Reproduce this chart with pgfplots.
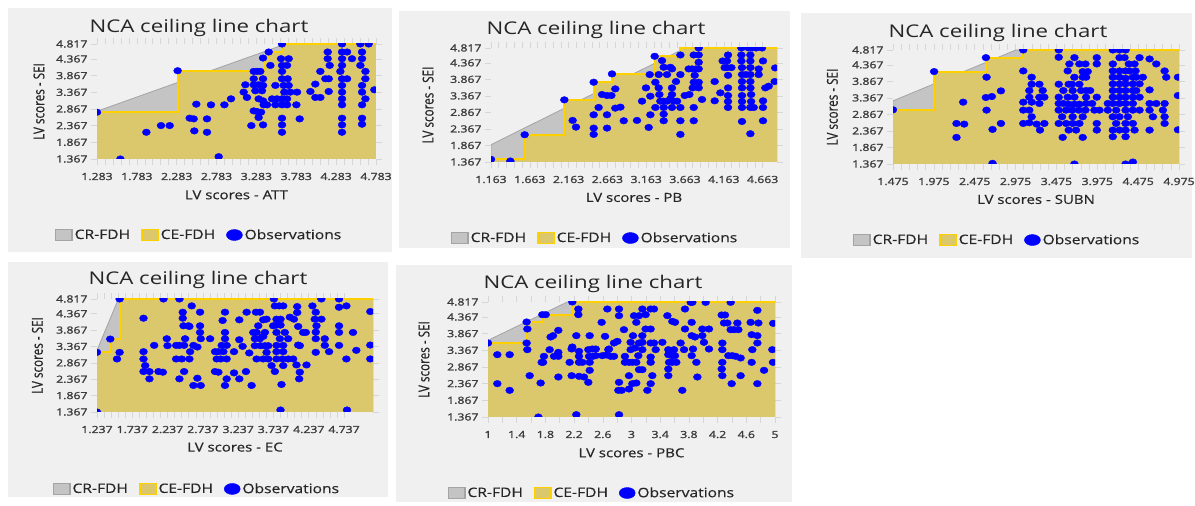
\documentclass[border=0pt]{standalone}
\usepackage{fontspec}
\setmainfont{Open Sans}[FakeStretch=1.2, FakeBold=0.4]
\newfontfamily\titlefont{Open Sans}[FakeStretch=1.27]
\newfontfamily\tickfont{Open Sans}[FakeStretch=1.25, FakeBold=1.6]
\newfontfamily\ylabfont{Open Sans}[FakeStretch=0.78, FakeBold=0.5]
\usepackage{pgfplots}
\pgfplotsset{compat=1.18}
\definecolor{panelbg}{HTML}{F0F0F0}
\definecolor{khaki}{HTML}{DCC86C}
\definecolor{yel}{HTML}{FFD000}
\definecolor{crgray}{HTML}{C4C4C4}
\definecolor{credge}{HTML}{A4A4A4}
\definecolor{obsblue}{HTML}{0000FF}
\definecolor{txt}{HTML}{262626}
\definecolor{tickc}{HTML}{D6D6D6}
\pgfplotsset{nca/.style={
  scale only axis, clip marker paths=true,
  ymin=1.367, ymax=4.817,
  ytick={1.367,1.867,2.367,2.867,3.367,3.867,4.367,4.817},
  yticklabels={1.367,1.867,2.367,2.867,3.367,3.867,4.367,4.817},
  minor y tick num=5, minor x tick num=4,
  tick align=outside,
  major tick length=6pt, minor tick length=6pt,
  tick style={draw=tickc, line width=0.6pt},
  axis line style={draw=none},
  axis background/.style={fill=panelbg},
  tick label style={font=\tickfont\fontsize{9.8}{11}\selectfont, text=txt!90},
  xticklabel style={anchor=base, yshift=-15pt},
  yticklabel style={xshift=0pt},
  ylabel style={font=\ylabfont\fontsize{15}{17}\selectfont, text=txt, anchor=center},
  xlabel style={font=\fontsize{12.5}{14}\selectfont, text=txt, anchor=base, at={(axis description cs:0.5,-0.35)}},
  ylabel={LV scores - SEI},
  legend columns=3,
  legend style={draw=none, fill=none, anchor=center, font=\fontsize{13}{15}\selectfont, text=txt,
    /tikz/every even column/.append style={column sep=9pt}},
},
obs/.style={only marks, mark=*, mark size=3.3pt, color=obsblue, mark options={fill=obsblue, draw=none, xscale=1.2}},
celine/.style={draw=yel, line width=2pt, forget plot},
cefill/.style={fill=khaki, draw=none, forget plot},
crfill/.style={fill=crgray, draw=credge, line width=0.8pt, forget plot},
}
\newcommand{\ncalegend}{%
  \addlegendimage{legend image code/.code={\draw[fill=crgray,draw=credge,line width=1.3pt](0pt,-5.6pt) rectangle (16.5pt,5.6pt);}}
  \addlegendentry{CR-FDH}
  \addlegendimage{legend image code/.code={\draw[fill=khaki,draw=yel,line width=1.6pt](0pt,-5.6pt) rectangle (16pt,5.6pt);}}
  \addlegendentry{CE-FDH}
  \addlegendimage{legend image code/.code={\fill[obsblue](8pt,0pt) ellipse (8pt and 5.5pt);}}
  \addlegendentry{Observations}
}
\begin{document}
\begin{tikzpicture}
\path[use as bounding box, fill=white] (0pt,0pt) rectangle (1195pt,506pt);
\fill[panelbg] (8pt,254pt) rectangle (392pt,498pt);
\fill[panelbg] (399pt,258pt) rectangle (790pt,495pt);
\fill[panelbg] (801pt,248pt) rectangle (1192pt,493pt);
\fill[panelbg] (8pt,9pt) rectangle (388pt,244pt);
\fill[panelbg] (396pt,4pt) rectangle (792pt,241pt);

% ---------------- Panel 1: ATT
\begin{axis}[nca, at={(97pt,347pt)}, anchor=south west, width=279pt, height=115pt,
  xmin=1.283, xmax=4.783,
  xtick={1.283,1.783,2.283,2.783,3.283,3.783,4.283,4.783},
  xticklabels={1.283,1.783,2.283,2.783,3.283,3.783,4.283,4.783},
  xlabel={LV scores - ATT},
  ylabel style={at={(axis description cs:-0.208,0.5)}},
  legend style={at={(axis description cs:0.366,-0.661)}}]
\ncalegend
\addplot[crfill] coordinates {(1.283,1.367) (1.283,2.80) (3.65,4.817) (4.783,4.817) (4.783,1.367)};
\addplot[cefill] coordinates {(1.283,1.367) (1.283,2.771) (2.295,2.771) (2.295,4.015) (3.374,4.015) (3.374,4.396) (3.445,4.396) (3.445,4.577) (3.604,4.577) (3.604,4.817) (4.783,4.817) (4.783,1.367)};
\addplot[celine] coordinates {(1.283,2.771) (2.295,2.771) (2.295,4.015) (3.374,4.015) (3.374,4.396) (3.445,4.396) (3.445,4.577) (3.604,4.577) (3.604,4.817) (4.783,4.817)};
\addplot[obs, forget plot] table {
x y
1.283 2.771
1.576 1.367
1.902 2.169
2.086 2.370
2.195 2.370
2.295 4.015
2.446 2.591
2.496 2.571
2.529 3.012
2.504 2.210
2.663 2.571
2.663 2.169
2.713 2.992
2.810 1.437
2.881 2.992
2.964 3.172
3.144 3.594
3.123 3.373
3.165 3.213
3.219 2.370
3.249 3.995
3.291 3.995
3.332 3.995
3.249 3.774
3.366 3.774
3.249 3.594
3.311 3.594
3.366 3.574
3.270 3.413
3.353 3.413
3.311 3.172
3.366 3.112
3.374 2.992
3.416 2.992
3.249 2.811
3.291 2.791
3.341 2.771
3.311 2.611
3.366 2.390
3.366 4.396
3.437 4.577
3.458 4.175
3.521 3.574
3.479 3.172
3.541 3.172
3.604 3.172
3.667 3.172
3.521 2.992
3.604 2.992
3.667 2.992
3.784 2.992
3.604 4.817
3.592 4.376
3.688 4.376
3.604 4.175
3.667 4.175
3.604 3.995
3.604 3.774
3.675 3.774
3.625 3.574
3.688 3.574
3.633 3.373
3.709 3.373
3.792 3.373
3.604 2.591
3.604 2.390
3.604 2.169
3.826 2.571
3.960 3.393
4.022 3.614
4.022 3.213
4.085 3.213
4.085 3.995
4.148 3.774
4.190 3.774
4.190 3.393
4.177 4.577
4.177 4.376
4.202 4.175
4.357 4.817
4.357 4.577
4.420 4.577
4.482 4.376
4.357 4.376
4.357 4.175
4.336 3.995
4.357 3.774
4.420 3.774
4.357 3.574
4.357 3.373
4.357 3.172
4.357 2.992
4.357 2.591
4.357 2.390
4.357 2.169
4.587 4.817
4.691 4.817
4.608 4.577
4.608 4.376
4.587 4.175
4.650 3.995
4.650 3.774
4.608 3.574
4.608 3.373
4.650 3.172
4.608 2.992
4.608 2.591
4.608 2.410
4.763 3.443
};
\end{axis}

% ---------------- Panel 2: PB
\begin{axis}[nca, at={(491pt,344pt)}, anchor=south west, width=286pt, height=114pt,
  xmin=1.163, xmax=4.848,
  xtick={1.163,1.663,2.163,2.663,3.163,3.663,4.163,4.663},
  xticklabels={1.163,1.663,2.163,2.663,3.163,3.663,4.163,4.663},
  xlabel={LV scores - PB},
  ylabel style={at={(axis description cs:-0.220,0.5)}},
  legend style={at={(axis description cs:0.364,-0.667)}}]
\ncalegend
\addplot[crfill] coordinates {(1.163,1.367) (1.163,1.890) (3.667,4.817) (4.848,4.817) (4.848,1.367)};
\addplot[cefill] coordinates {(1.163,1.367) (1.163,1.447) (1.597,1.447) (1.597,2.192) (2.108,2.192) (2.108,3.248) (2.486,3.248) (2.486,3.781) (2.722,3.781) (2.722,4.033) (3.272,4.033) (3.272,4.566) (3.603,4.566) (3.603,4.817) (4.848,4.817) (4.848,1.367)};
\addplot[celine] coordinates {(1.163,1.447) (1.597,1.447) (1.597,2.192) (2.108,2.192) (2.108,3.248) (2.486,3.248) (2.486,3.781) (2.722,3.781) (2.722,4.033) (3.272,4.033) (3.272,4.566) (3.603,4.566) (3.603,4.817) (4.848,4.817)};
\addplot[obs, forget plot] table {
x y
1.163 1.447
1.412 1.397
1.597 2.192
2.108 3.248
2.215 2.625
2.258 2.423
2.486 3.781
2.486 2.393
2.486 2.202
2.550 3.017
2.593 3.409
2.658 3.379
2.714 3.379
2.486 2.796
2.658 2.796
2.658 2.393
2.722 4.033
2.765 3.580
2.765 2.997
2.830 3.027
2.873 2.615
3.044 2.625
3.109 3.208
3.160 3.610
3.195 2.413
3.208 4.013
3.324 4.013
3.431 4.013
3.216 3.359
3.216 2.796
3.281 3.781
3.272 4.566
3.281 3.017
3.324 3.610
3.332 3.409
3.345 3.208
3.388 3.208
3.431 3.208
3.474 3.279
3.517 3.208
3.560 3.208
3.388 3.017
3.388 2.816
3.388 2.615
3.495 3.017
3.603 3.017
3.388 4.234
3.474 4.234
3.495 4.184
3.367 4.435
3.495 3.610
3.495 3.409
3.547 3.802
3.603 4.013
3.603 4.606
3.603 2.615
3.603 2.202
3.659 3.379
3.719 3.409
3.762 3.610
3.775 3.781
3.788 3.989
3.710 4.184
3.753 4.184
3.805 4.184
3.839 4.184
3.775 4.606
3.839 4.606
3.839 4.817
3.775 3.017
3.775 2.615
3.839 4.385
3.839 3.781
3.839 3.610
3.882 3.259
4.045 3.802
4.045 3.218
4.118 3.460
4.148 4.425
4.204 4.425
4.217 4.606
4.174 4.224
4.204 4.224
4.260 4.224
4.217 3.989
4.217 3.610
4.217 3.379
4.217 3.198
4.217 3.017
4.389 4.817
4.483 4.817
4.526 4.817
4.578 4.817
4.655 4.817
4.389 4.606
4.505 4.606
4.389 4.425
4.397 4.224
4.397 4.013
4.397 3.802
4.397 3.610
4.397 3.379
4.397 3.198
4.397 3.017
4.397 2.594
4.449 4.013
4.505 4.425
4.505 4.224
4.505 4.013
4.505 3.802
4.505 3.610
4.514 3.409
4.514 3.198
4.505 3.017
4.548 3.017
4.612 4.184
4.612 4.013
4.505 2.222
4.668 4.425
4.668 3.218
4.668 3.017
4.668 2.615
4.698 3.610
4.741 3.661
4.818 3.802
4.825 4.214
};
\end{axis}

% ---------------- Panel 3: SUBN
\begin{axis}[nca, at={(893pt,342pt)}, anchor=south west, width=286pt, height=114pt,
  xmin=1.475, xmax=4.975,
  xtick={1.475,1.975,2.475,2.975,3.475,3.975,4.475,4.975},
  xticklabels={1.475,1.975,2.475,2.975,3.475,3.975,4.475,4.975},
  xlabel={LV scores - SUBN},
  ylabel style={at={(axis description cs:-0.212,0.5)}},
  legend style={at={(axis description cs:0.364,-0.667)}}]
\ncalegend
\addplot[crfill] coordinates {(1.475,1.367) (1.475,3.278) (2.979,4.817) (4.975,4.817) (4.975,1.367)};
\addplot[cefill] coordinates {(1.475,1.367) (1.475,3.007) (1.978,3.007) (1.978,4.164) (2.612,4.164) (2.612,4.586) (3.069,4.586) (3.069,4.817) (4.975,4.817) (4.975,1.367)};
\addplot[celine] coordinates {(1.475,3.007) (1.978,3.007) (1.978,4.164) (2.612,4.164) (2.612,4.586) (3.069,4.586) (3.069,4.817) (4.975,4.817)};
\addplot[obs, forget plot] table {
x y
1.475 3.007
1.978 4.164
2.252 2.594
2.346 2.574
2.252 2.172
2.334 3.238
2.612 4.586
2.620 3.993
2.612 3.379
2.685 3.409
2.796 3.580
2.620 2.997
2.693 2.413
2.796 2.594
2.693 1.387
3.069 4.817
3.069 4.184
3.172 3.993
3.172 3.781
3.266 3.781
3.143 3.590
3.307 3.590
3.143 3.389
3.266 3.389
3.327 3.389
3.069 3.238
3.172 3.238
3.266 3.198
3.069 2.997
3.143 2.997
3.172 2.796
3.069 2.594
3.143 2.615
3.233 2.574
3.327 2.594
3.274 2.393
3.503 4.817
3.503 4.597
3.634 4.395
3.695 4.586
3.756 4.395
3.830 4.395
3.969 4.586
3.969 4.395
3.613 4.184
3.797 4.164
3.858 4.164
3.695 3.993
3.797 3.993
3.838 3.993
3.503 3.781
3.625 3.781
3.666 3.781
3.756 3.781
3.560 3.590
3.674 3.590
3.777 3.590
3.838 3.590
3.887 3.590
3.503 3.389
3.613 3.389
3.695 3.389
3.838 3.389
3.969 3.389
3.503 3.198
3.560 3.198
3.625 3.178
3.695 3.178
3.756 3.178
3.838 3.198
3.912 3.198
3.503 2.997
3.593 2.997
3.666 2.997
3.748 2.997
3.830 2.997
3.940 2.997
4.002 2.997
3.544 2.796
3.674 2.796
3.797 2.796
3.503 2.594
3.593 2.594
3.674 2.594
3.756 2.594
3.969 2.594
3.625 2.393
3.715 2.393
3.969 2.393
3.552 2.172
3.797 2.172
3.695 1.367
4.165 4.817
4.247 4.817
4.321 4.817
4.165 4.395
4.247 4.586
4.308 4.586
4.361 4.395
4.431 4.395
4.492 4.586
4.615 4.546
4.697 4.395
4.165 4.184
4.247 4.184
4.321 4.184
4.370 4.184
4.443 4.184
4.165 3.993
4.247 3.993
4.321 3.963
4.410 3.993
4.451 3.993
4.533 3.993
4.165 3.792
4.247 3.792
4.321 3.792
4.410 3.792
4.492 3.792
4.165 3.590
4.247 3.590
4.321 3.590
4.410 3.590
4.451 3.590
4.615 3.610
4.165 3.389
4.247 3.389
4.321 3.389
4.410 3.389
4.492 3.389
4.104 3.198
4.165 3.198
4.247 3.198
4.321 3.198
4.410 3.198
4.615 3.198
4.697 3.198
4.799 3.198
4.104 2.997
4.206 2.997
4.321 2.997
4.410 2.997
4.492 2.997
4.615 2.997
4.778 2.997
4.165 2.796
4.247 2.796
4.349 2.796
4.656 2.796
4.799 2.796
4.206 2.594
4.321 2.594
4.410 2.594
4.799 2.594
4.165 2.393
4.247 2.393
4.321 2.393
4.431 2.393
4.615 2.393
4.165 2.192
4.321 2.192
4.321 1.367
4.410 1.427
4.799 4.184
4.819 3.993
4.962 3.439
4.962 3.993
4.962 2.403
};
\end{axis}

% ---------------- Panel 4: EC
\begin{axis}[nca, at={(97pt,94pt)}, anchor=south west, width=276pt, height=113pt,
  xmin=1.237, xmax=5.147,
  xtick={1.237,1.737,2.237,2.737,3.237,3.737,4.237,4.737},
  xticklabels={1.237,1.737,2.237,2.737,3.237,3.737,4.237,4.737},
  xlabel={LV scores - EC},
  ylabel style={at={(axis description cs:-0.216,0.5)}},
  legend style={at={(axis description cs:0.362,-0.681)}}]
\ncalegend
\addplot[crfill] coordinates {(1.237,1.367) (1.237,3.25) (1.54,4.817) (5.147,4.817) (5.147,1.367)};
\addplot[cefill] coordinates {(1.237,1.367) (1.237,3.189) (1.425,3.189) (1.425,3.594) (1.557,3.594) (1.557,4.817) (5.147,4.817) (5.147,1.367)};
\addplot[celine] coordinates {(1.237,3.189) (1.425,3.189) (1.425,3.594) (1.557,3.594) (1.557,4.817) (5.147,4.817)};
\addplot[obs, forget plot] table {
x y
1.237 3.189
1.425 3.594
1.557 4.817
1.557 3.189
1.520 2.986
1.237 1.367
1.896 4.231
1.896 3.209
1.896 2.986
1.920 2.784
1.896 2.602
1.980 2.602
1.980 2.379
2.170 2.582
2.108 2.602
2.047 3.401
2.226 3.604
2.236 3.391
2.179 4.817
2.405 4.817
2.358 3.401
2.405 3.401
2.471 3.401
2.485 3.604
2.556 3.209
2.603 3.401
2.659 3.351
2.358 2.986
2.438 2.986
2.546 2.986
2.405 2.379
2.471 2.602
2.659 2.399
2.603 2.177
2.707 2.177
2.452 4.414
2.452 4.231
2.579 4.606
2.462 3.999
2.532 3.999
2.546 3.978
2.697 4.414
2.697 3.999
2.697 3.796
2.707 3.604
2.839 3.604
2.909 3.209
2.956 3.209
3.027 3.209
3.003 3.401
3.074 3.401
3.050 3.604
3.050 3.796
3.017 4.160
3.050 4.414
2.933 2.986
2.989 2.986
3.074 2.986
2.909 2.602
2.956 2.582
3.074 2.379
3.050 2.177
3.178 3.209
3.178 2.561
3.253 4.181
3.300 3.371
3.253 3.573
3.347 2.602
3.253 2.379
3.357 4.414
3.427 2.177
3.394 3.169
3.489 4.414
3.545 4.414
3.498 3.796
3.521 3.999
3.451 3.796
3.474 3.604
3.545 3.604
3.592 3.675
3.616 3.796
3.474 3.391
3.554 3.391
3.616 3.391
3.663 3.391
3.498 2.986
3.592 2.986
3.639 3.189
3.663 2.986
3.592 4.181
3.639 4.201
3.733 3.999
3.780 3.796
3.710 2.784
3.743 4.817
3.757 4.606
3.818 4.606
3.875 4.606
3.780 4.201
3.837 4.201
3.780 4.019
3.837 4.019
3.898 3.796
3.828 3.604
3.945 3.604
3.780 3.401
3.875 3.401
3.780 3.209
3.875 3.209
3.780 2.986
3.865 2.986
3.945 2.986
4.016 2.986
3.875 2.784
3.757 2.602
3.851 2.207
3.837 1.428
3.969 4.262
4.026 4.201
4.087 3.978
4.073 4.586
4.073 4.404
4.087 3.411
4.110 3.391
4.063 2.804
4.110 2.582
4.101 2.379
4.205 2.804
4.157 3.796
4.195 3.796
4.289 4.606
4.336 4.414
4.322 4.201
4.416 4.201
4.346 3.999
4.336 3.806
4.336 3.604
4.464 3.604
4.464 3.401
4.336 3.189
4.525 3.209
4.416 4.817
4.666 4.817
4.666 4.565
4.770 4.606
4.666 3.999
4.666 3.796
4.666 3.401
4.864 3.796
4.911 3.250
4.770 2.986
4.779 1.428
5.109 4.434
5.109 3.411
5.109 2.986
};
\end{axis}

% ---------------- Panel 5: PBC
\begin{axis}[nca, at={(488pt,89pt)}, anchor=south west, width=287pt, height=115pt,
  xmin=1, xmax=5, minor x tick num=1,
  xtick={1,1.4,1.8,2.2,2.6,3,3.4,3.8,4.2,4.6,5},
  xticklabels={1,1.4,1.8,2.2,2.6,3,3.4,3.8,4.2,4.6,5},
  xlabel={LV scores - PBC},
  ylabel style={at={(axis description cs:-0.223,0.5)}},
  legend style={at={(axis description cs:0.362,-0.661)}}]
\ncalegend
\addplot[crfill] coordinates {(1,1.367) (1,3.667) (2.106,4.817) (5,4.817) (5,1.367)};
\addplot[cefill] coordinates {(1,1.367) (1,3.587) (1.539,3.587) (1.539,4.217) (1.757,4.217) (1.757,4.437) (2.185,4.437) (2.185,4.817) (5,4.817) (5,1.367)};
\addplot[celine] coordinates {(1,3.587) (1.539,3.587) (1.539,4.217) (1.757,4.217) (1.757,4.437) (2.185,4.437) (2.185,4.817) (5,4.817)};
\addplot[obs, forget plot] table {
x y
1.000 3.587
1.130 3.237
1.302 3.237
1.130 2.367
1.302 2.167
1.539 4.217
1.548 4.007
1.539 3.587
1.548 3.387
1.581 2.607
1.702 1.367
1.757 4.437
1.804 4.437
1.780 3.187
1.767 3.007
1.748 3.007
1.859 3.387
1.873 3.767
1.906 3.807
1.980 3.967
1.734 2.387
1.920 3.187
1.980 3.307
1.980 3.187
1.980 2.567
2.175 4.817
2.259 4.607
2.259 4.437
2.166 3.407
2.175 3.467
2.231 3.807
2.268 3.337
2.268 3.187
2.138 3.007
2.268 3.007
2.315 3.007
2.417 3.007
2.166 2.607
2.268 2.587
2.338 2.567
2.398 2.407
2.417 2.767
2.417 3.807
2.398 3.387
2.454 3.407
2.501 3.407
2.231 1.437
2.408 3.187
2.463 3.187
2.501 3.207
2.584 4.207
2.631 3.787
2.663 4.607
2.593 3.207
2.649 3.227
2.710 3.187
2.756 3.187
2.677 3.387
2.686 3.407
2.756 3.587
2.803 3.637
2.826 4.607
2.826 4.407
2.826 2.407
2.817 2.167
2.863 2.167
2.826 1.437
2.895 3.987
2.909 3.187
2.909 3.007
2.965 3.007
3.012 3.007
3.067 3.007
2.988 3.387
2.988 3.607
2.965 2.607
3.067 2.387
3.012 2.367
3.105 2.787
3.151 2.787
2.965 2.207
3.021 3.807
3.035 4.407
3.105 4.407
3.151 4.607
3.197 4.437
3.267 4.607
3.314 4.607
3.067 4.207
3.105 3.587
3.049 3.437
3.095 3.207
3.151 3.607
3.151 3.807
3.151 3.387
3.197 4.007
3.267 4.007
3.221 2.167
3.267 3.007
3.290 2.607
3.267 2.367
3.267 3.587
3.314 3.587
3.267 3.167
3.337 3.387
3.430 3.607
3.500 4.407
3.569 4.237
3.606 4.207
3.513 3.387
3.513 3.237
3.560 3.207
3.606 3.207
3.592 3.387
3.523 3.007
3.569 3.007
3.625 3.007
3.513 2.807
3.513 2.607
3.685 3.587
3.708 2.167
3.732 3.387
3.746 4.007
3.746 4.607
3.825 4.807
3.848 4.807
3.839 4.207
3.839 3.807
3.857 3.407
3.839 3.207
3.904 3.007
3.918 2.567
3.885 3.767
3.987 4.007
3.987 3.807
4.010 3.607
4.034 4.807
4.080 4.007
4.080 3.407
4.257 4.427
4.303 4.427
4.289 4.187
4.336 4.187
4.266 3.587
4.266 3.387
4.266 3.007
4.257 2.807
4.266 2.607
4.350 3.207
4.405 3.207
4.452 3.187
4.521 3.137
4.382 3.987
4.429 3.987
4.489 3.987
4.475 4.187
4.396 2.367
4.382 4.807
4.521 2.607
4.661 4.207
4.675 3.837
4.684 3.387
4.675 3.007
4.754 3.587
4.754 4.567
4.754 3.807
4.768 4.187
4.754 2.367
4.847 2.767
4.963 3.387
4.972 3.007
4.975 4.177
};
\end{axis}

\node[anchor=base, font=\titlefont\fontsize{17.5}{20}\selectfont, text=txt] at (199pt,473.7pt) {NCA ceiling line chart};
\node[anchor=base, font=\titlefont\fontsize{17.5}{20}\selectfont, text=txt] at (596pt,471.7pt) {NCA ceiling line chart};
\node[anchor=base, font=\titlefont\fontsize{17.5}{20}\selectfont, text=txt] at (998pt,468.7pt) {NCA ceiling line chart};
\node[anchor=base, font=\titlefont\fontsize{17.5}{20}\selectfont, text=txt] at (198pt,221pt) {NCA ceiling line chart};
\node[anchor=base, font=\titlefont\fontsize{17.5}{20}\selectfont, text=txt] at (593pt,217.7pt) {NCA ceiling line chart};
\end{tikzpicture}
\end{document}
